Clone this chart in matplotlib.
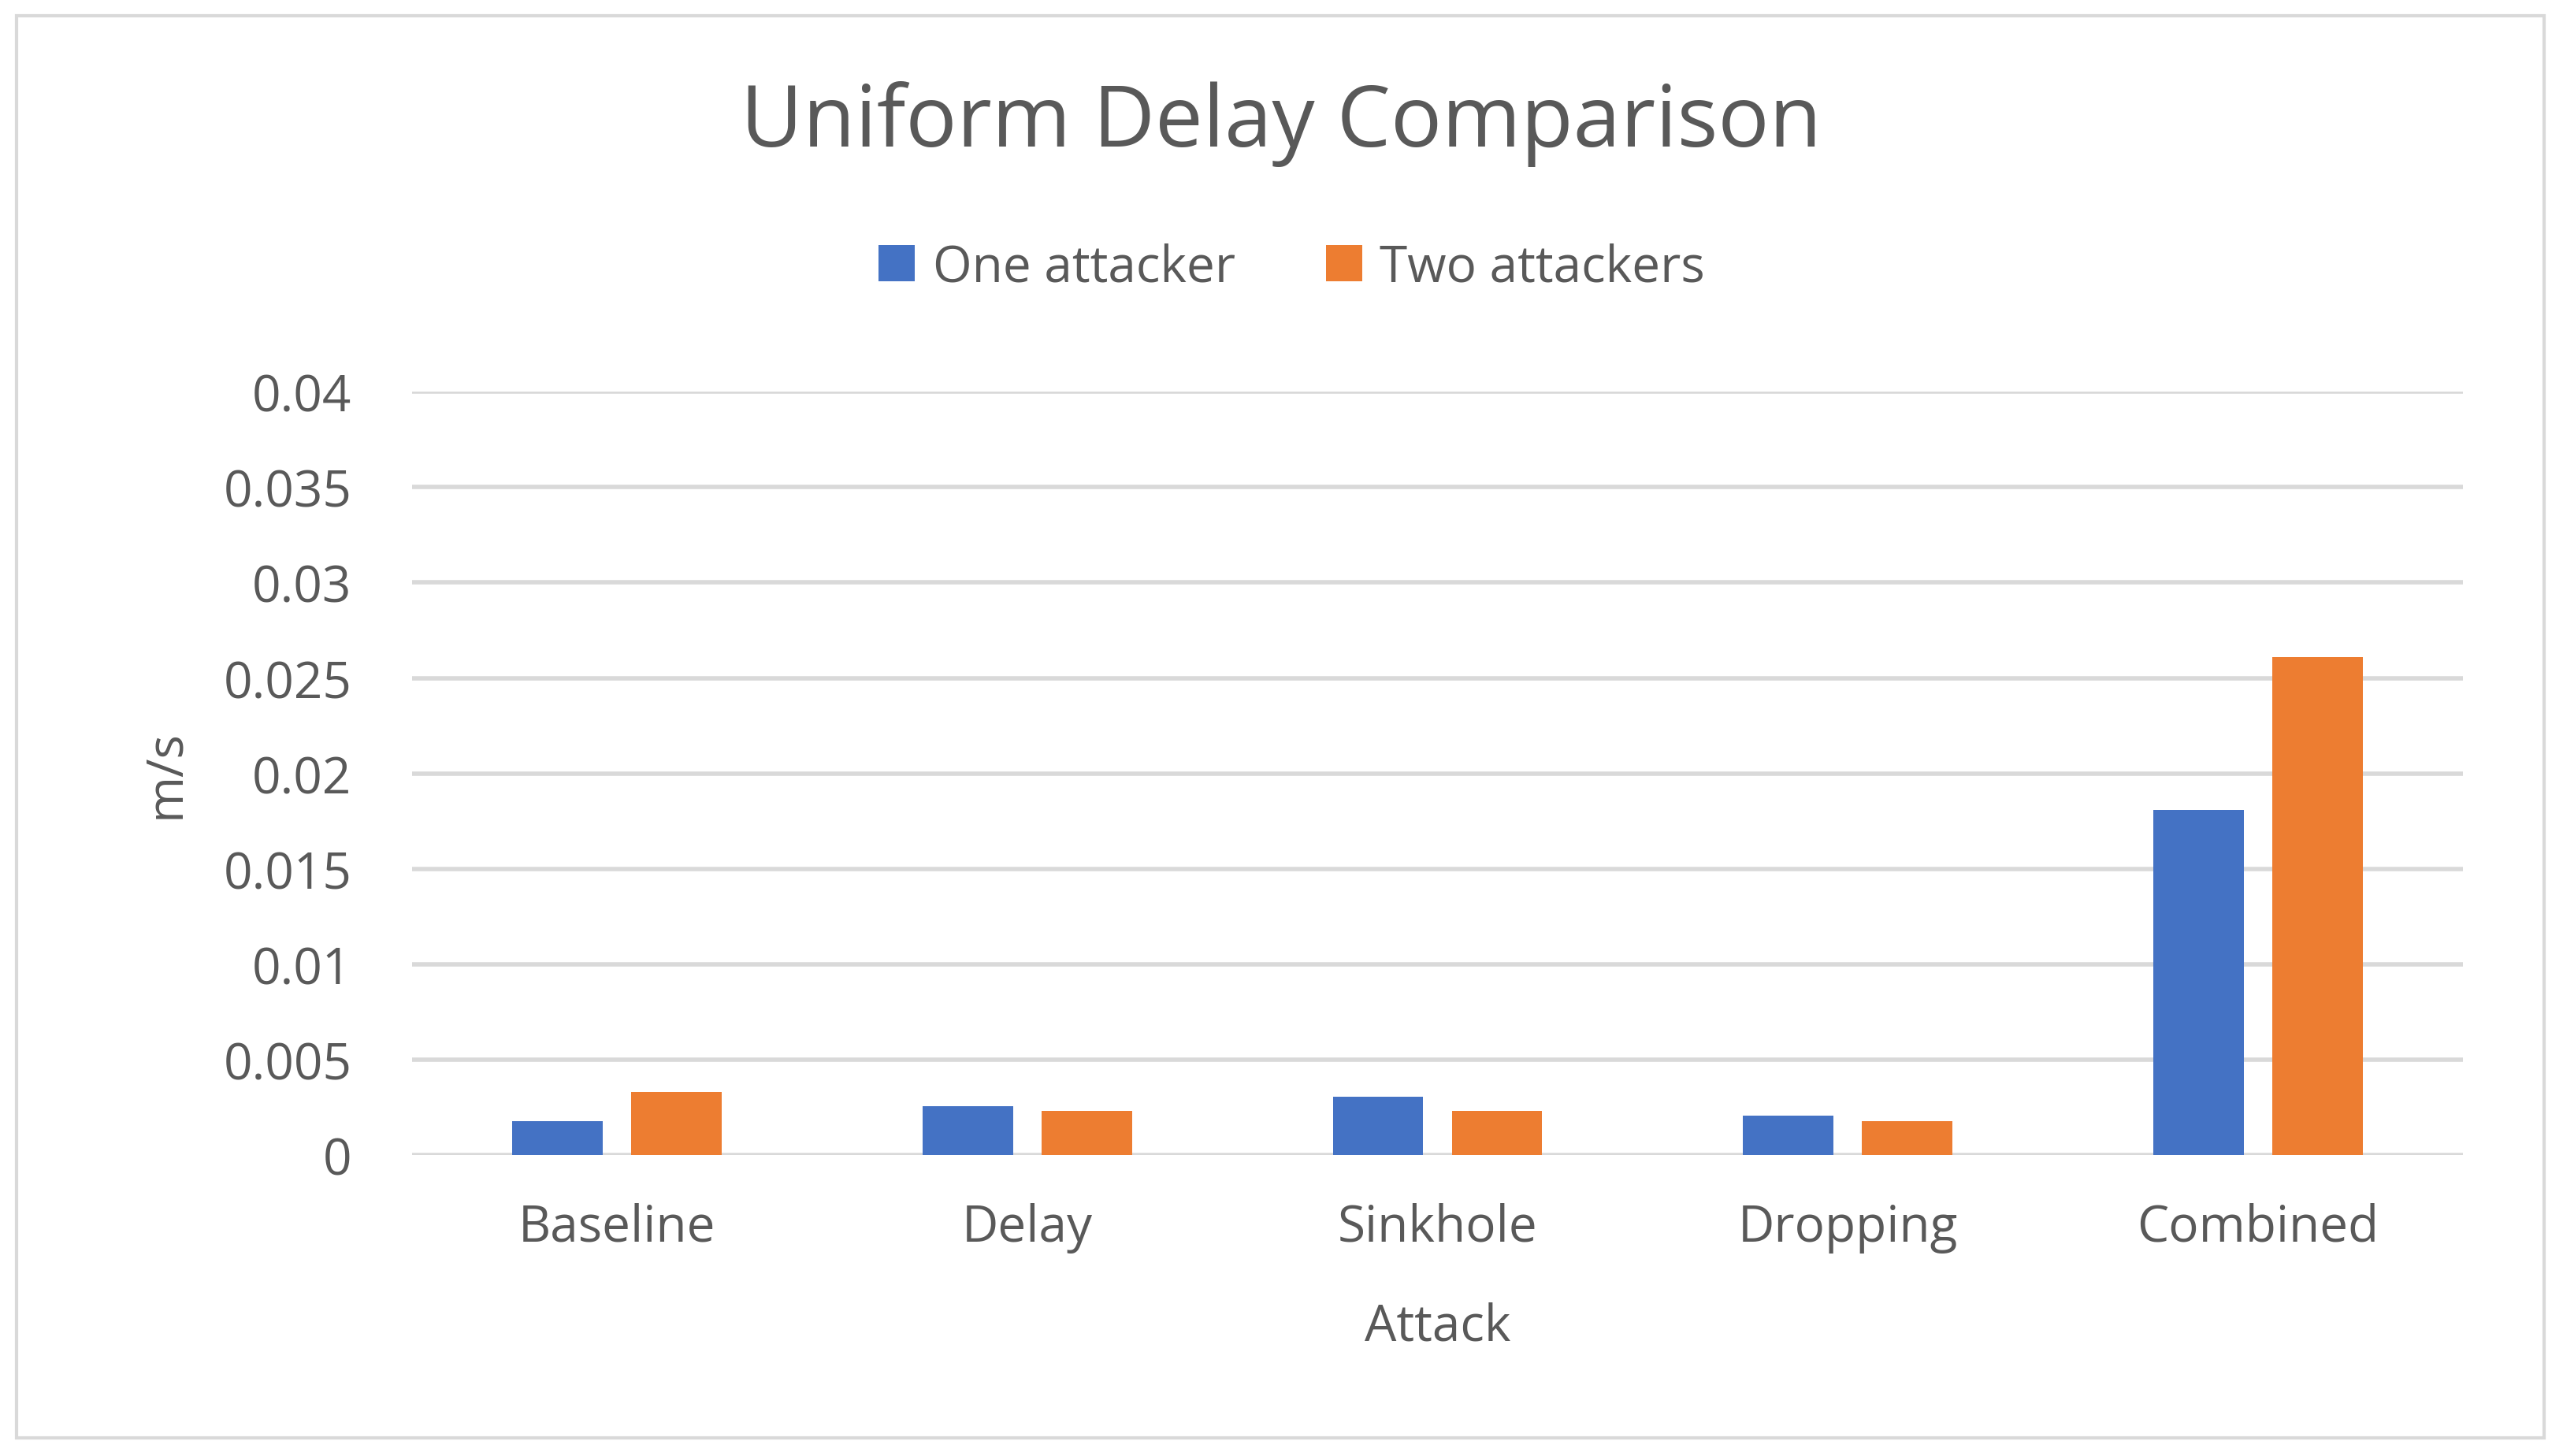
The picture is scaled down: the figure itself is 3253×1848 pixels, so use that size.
import matplotlib
matplotlib.use("Agg")
import matplotlib.pyplot as plt
import numpy as np
from matplotlib.patches import Rectangle

# data
attacks = ["Baseline", "Delay", "Sinkhole", "Dropping", "Combined"]
one_attacker = [0.0018, 0.00257, 0.00308, 0.00206, 0.0181]
two_attackers = [0.00333, 0.00231, 0.00231, 0.0018, 0.0261]
yticks = [0, 0.005, 0.01, 0.015, 0.02, 0.025, 0.03, 0.035, 0.04]
ytick_labels = ["0", "0.005", "0.01", "0.015", "0.02", "0.025", "0.03", "0.035", "0.04"]

plt.rcParams['font.family'] = ['Open Sans', 'DejaVu Sans']
txt = "#595959"
fs = 46

fig = plt.figure(figsize=(32.53, 18.49), dpi=100)
ax = fig.add_axes([0.1607, 0.2065, 0.8003, 0.5241])

x = np.arange(len(attacks))
w = 0.22
off = 0.145
ax.bar(x - off, one_attacker, w, color="#4472C4", label="One attacker", zorder=3)
ax.bar(x + off, two_attackers, w, color="#ED7D31", label="Two attackers", zorder=3)

ax.set_xlim(-0.5, 4.5)
ax.set_ylim(0, 0.04)
ax.set_yticks(yticks)
ax.set_yticklabels(ytick_labels)
ax.set_xticks(x)
ax.set_xticklabels(attacks)
ax.tick_params(axis="both", length=0, labelsize=fs, labelcolor=txt)
ax.tick_params(axis="x", pad=43)
ax.tick_params(axis="y", pad=55)
ax.yaxis.grid(True, color="#D9D9D9", linewidth=4, zorder=0)
for s in ax.spines.values():
    s.set_visible(False)

ax.set_xlabel("Attack", fontsize=fs, color=txt, labelpad=44)
ax.set_ylabel("m/s", fontsize=fs, color=txt, labelpad=30)

fig.text(0.5, 0.915, "Uniform Delay Comparison", ha="center", va="center",
         fontsize=78, color=txt)
fig.legend(loc="center", bbox_to_anchor=(0.504, 0.816), ncol=2, frameon=False,
           fontsize=fs, labelcolor=txt, handlelength=0.72, handleheight=0.72,
           columnspacing=1.8, handletextpad=0.35)

fig.patches.append(Rectangle((0.0065, 0.0125), 0.9862, 0.9762, transform=fig.transFigure,
                             fill=False, edgecolor="#D9D9D9", linewidth=3))

fig.savefig("out.png", dpi=100, facecolor="white")
